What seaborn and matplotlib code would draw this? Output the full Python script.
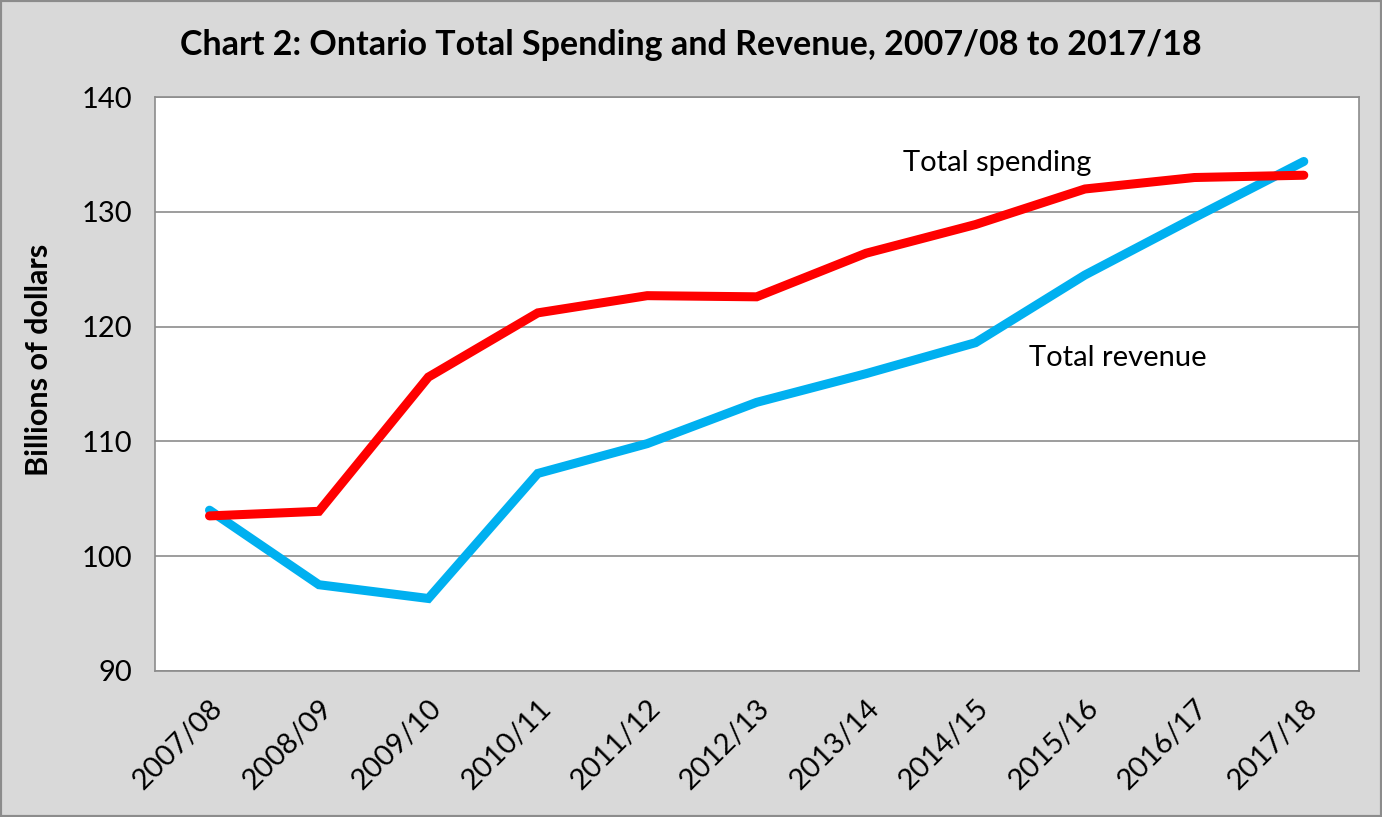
import matplotlib
matplotlib.use("Agg")
import matplotlib.pyplot as plt
import seaborn as sns
import pandas as pd

years = ["2007/08", "2008/09", "2009/10", "2010/11", "2011/12", "2012/13",
         "2013/14", "2014/15", "2015/16", "2016/17", "2017/18"]
spending = [103.5, 103.9, 115.6, 121.2, 122.7, 122.6, 126.4, 128.9, 132.0, 133.0, 133.2]
revenue = [104.0, 97.5, 96.3, 107.2, 109.8, 113.4, 115.9, 118.6, 124.5, 129.5, 134.4]
yticks = [90, 100, 110, 120, 130, 140]

df = pd.concat([
    pd.DataFrame({"year": years, "value": revenue, "series": "Total revenue"}),
    pd.DataFrame({"year": years, "value": spending, "series": "Total spending"}),
])
df["x"] = df["year"].map({y: i for i, y in enumerate(years)})

sns.set_theme(style="white")
plt.rcParams["font.family"] = ["Lato", "DejaVu Sans"]
plt.rcParams["text.color"] = "black"
plt.rcParams["axes.labelcolor"] = "black"

fig = plt.figure(figsize=(13.82, 8.17), dpi=100, facecolor="#D9D9D9")
ax = fig.add_axes([0.112, 0.179, 0.871, 0.702])
ax.set_facecolor("white")

sns.lineplot(data=df, x="x", y="value", hue="series",
             palette={"Total revenue": "#00B0F0", "Total spending": "#FF0000"},
             linewidth=6.5, ax=ax, legend=False, sort=False)
for ln in ax.get_lines():
    ln.set_solid_capstyle("round")
    ln.set_solid_joinstyle("miter")

ax.set_xlim(-0.5, len(years) - 0.5)
ax.set_ylim(90, 140)
ax.set_yticks(yticks)
ax.set_yticklabels([str(t) for t in yticks])
ax.set_xticks(range(len(years)))
ax.set_xticklabels(years, rotation=45, ha="right", rotation_mode="anchor")
ax.tick_params(axis="both", labelsize=21, colors="black", length=0)
ax.tick_params(axis="x", pad=17)
ax.tick_params(axis="y", pad=16)
ax.grid(axis="y", color="#8C8C8C", linewidth=1.2)
ax.set_axisbelow(True)
for s in ax.spines.values():
    s.set_visible(True)
    s.set_color("#8C8C8C")
    s.set_linewidth(1.2)

ax.set_xlabel("")
ax.set_ylabel("Billions of dollars", fontsize=22, fontweight="bold", color="black")
ax.yaxis.set_label_coords(-0.0845, 0.542)

ax.text(7.2, 134.3, "Total spending", fontsize=21, ha="center", va="center", color="black")
ax.text(8.3, 117.3, "Total revenue", fontsize=21, ha="center", va="center", color="black")

fig.text(0.5, 0.945, "Chart 2: Ontario Total Spending and Revenue, 2007/08 to 2017/18",
         fontsize=24.5, fontweight="bold", ha="center", va="center", color="black")

border = plt.Rectangle((0, 0), 1, 1, transform=fig.transFigure, fill=False,
                       edgecolor="#8C8C8C", linewidth=3)
fig.patches.append(border)

fig.savefig("out.png", dpi=100, facecolor=fig.get_facecolor())
